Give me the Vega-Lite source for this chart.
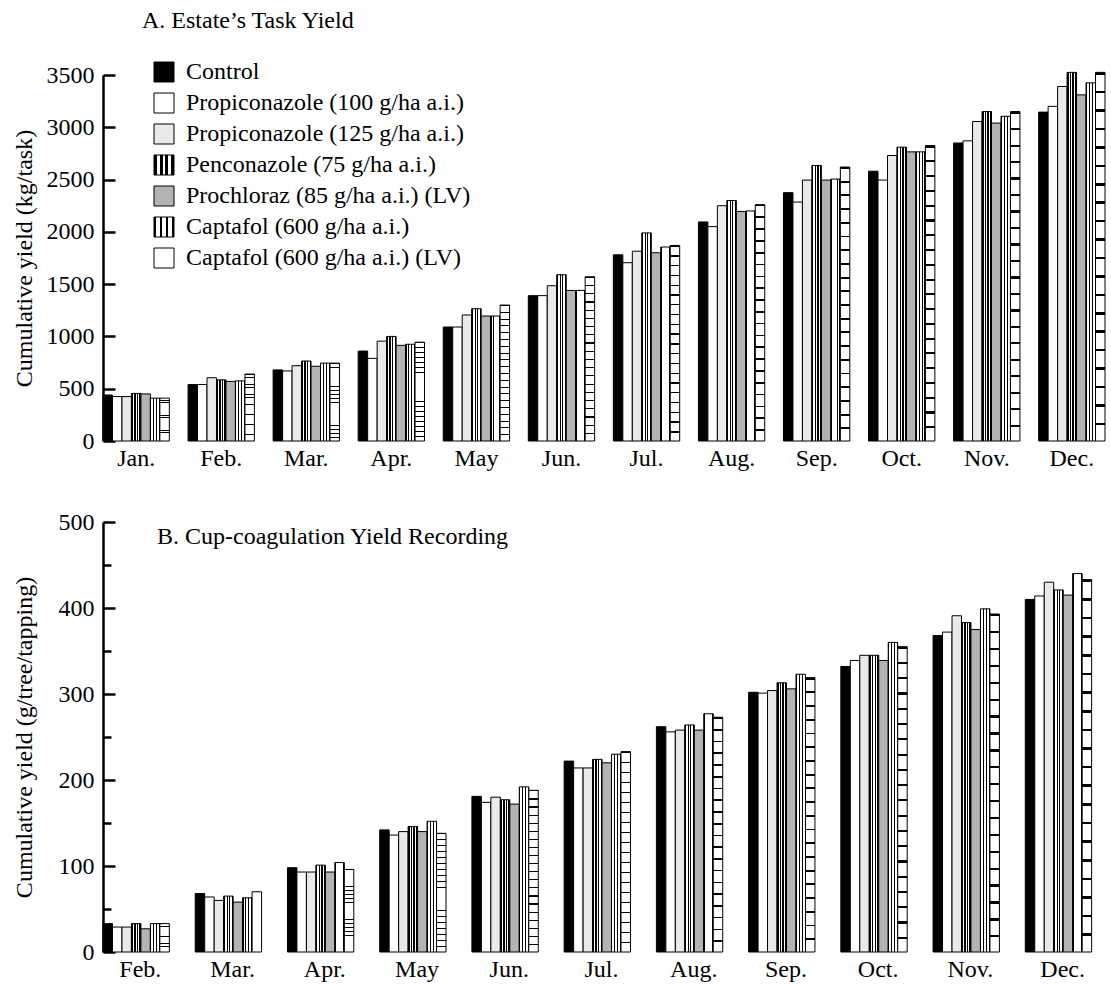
{
  "$schema": "https://vega.github.io/schema/vega-lite/v6.json",
  "background": "white",
  "padding": {"left": 12, "top": 9, "right": 4, "bottom": 4},
  "config": {
    "font": "Liberation Serif",
    "view": {"stroke": null},
    "axis": {"labelFont": "Liberation Serif", "titleFont": "Liberation Serif", "labelFontSize": 24, "titleFontSize": 24, "titleFontWeight": "normal", "labelColor": "#000", "titleColor": "#000", "domainColor": "#000", "tickColor": "#000", "grid": false},
    "axisX": {"domain": false, "ticks": false, "labelPadding": 5, "labelAngle": 0, "title": null},
    "axisY": {"domainWidth": 2.5, "tickWidth": 2.5, "tickSize": -12, "labelPadding": 21, "titlePadding": 10, "format": "d"},
    "title": {"font": "Liberation Serif", "fontSize": 24, "fontWeight": "normal", "color": "#000", "anchor": "start", "frame": "group"},
    "bar": {"stroke": "#000", "strokeWidth": 1}
  },
  "spacing": 40,
  "resolve": {"scale": {"fill": "independent"}, "legend": {"fill": "independent"}},
  "datasets": {
    "A": [
      {"month": "Jan.", "series": "Control", "value": 440},
      {"month": "Jan.", "series": "Propiconazole (100 g/ha a.i.)", "value": 425},
      {"month": "Jan.", "series": "Propiconazole (125 g/ha a.i.)", "value": 425},
      {"month": "Jan.", "series": "Penconazole (75 g/ha a.i.)", "value": 455},
      {"month": "Jan.", "series": "Prochloraz (85 g/ha a.i.) (LV)", "value": 450},
      {"month": "Jan.", "series": "Captafol (600 g/ha a.i.)", "value": 410},
      {"month": "Jan.", "series": "Captafol (600 g/ha a.i.) (LV)", "value": 410},
      {"month": "Feb.", "series": "Control", "value": 540},
      {"month": "Feb.", "series": "Propiconazole (100 g/ha a.i.)", "value": 540},
      {"month": "Feb.", "series": "Propiconazole (125 g/ha a.i.)", "value": 605},
      {"month": "Feb.", "series": "Penconazole (75 g/ha a.i.)", "value": 585},
      {"month": "Feb.", "series": "Prochloraz (85 g/ha a.i.) (LV)", "value": 570},
      {"month": "Feb.", "series": "Captafol (600 g/ha a.i.)", "value": 575},
      {"month": "Feb.", "series": "Captafol (600 g/ha a.i.) (LV)", "value": 640},
      {"month": "Mar.", "series": "Control", "value": 680},
      {"month": "Mar.", "series": "Propiconazole (100 g/ha a.i.)", "value": 670},
      {"month": "Mar.", "series": "Propiconazole (125 g/ha a.i.)", "value": 720},
      {"month": "Mar.", "series": "Penconazole (75 g/ha a.i.)", "value": 765},
      {"month": "Mar.", "series": "Prochloraz (85 g/ha a.i.) (LV)", "value": 715},
      {"month": "Mar.", "series": "Captafol (600 g/ha a.i.)", "value": 745},
      {"month": "Mar.", "series": "Captafol (600 g/ha a.i.) (LV)", "value": 745},
      {"month": "Apr.", "series": "Control", "value": 860},
      {"month": "Apr.", "series": "Propiconazole (100 g/ha a.i.)", "value": 790},
      {"month": "Apr.", "series": "Propiconazole (125 g/ha a.i.)", "value": 955},
      {"month": "Apr.", "series": "Penconazole (75 g/ha a.i.)", "value": 1000},
      {"month": "Apr.", "series": "Prochloraz (85 g/ha a.i.) (LV)", "value": 915},
      {"month": "Apr.", "series": "Captafol (600 g/ha a.i.)", "value": 925},
      {"month": "Apr.", "series": "Captafol (600 g/ha a.i.) (LV)", "value": 945},
      {"month": "May", "series": "Control", "value": 1090},
      {"month": "May", "series": "Propiconazole (100 g/ha a.i.)", "value": 1090},
      {"month": "May", "series": "Propiconazole (125 g/ha a.i.)", "value": 1205},
      {"month": "May", "series": "Penconazole (75 g/ha a.i.)", "value": 1265},
      {"month": "May", "series": "Prochloraz (85 g/ha a.i.) (LV)", "value": 1195},
      {"month": "May", "series": "Captafol (600 g/ha a.i.)", "value": 1195},
      {"month": "May", "series": "Captafol (600 g/ha a.i.) (LV)", "value": 1300},
      {"month": "Jun.", "series": "Control", "value": 1390},
      {"month": "Jun.", "series": "Propiconazole (100 g/ha a.i.)", "value": 1390},
      {"month": "Jun.", "series": "Propiconazole (125 g/ha a.i.)", "value": 1485},
      {"month": "Jun.", "series": "Penconazole (75 g/ha a.i.)", "value": 1590},
      {"month": "Jun.", "series": "Prochloraz (85 g/ha a.i.) (LV)", "value": 1440},
      {"month": "Jun.", "series": "Captafol (600 g/ha a.i.)", "value": 1440},
      {"month": "Jun.", "series": "Captafol (600 g/ha a.i.) (LV)", "value": 1570},
      {"month": "Jul.", "series": "Control", "value": 1780},
      {"month": "Jul.", "series": "Propiconazole (100 g/ha a.i.)", "value": 1705},
      {"month": "Jul.", "series": "Propiconazole (125 g/ha a.i.)", "value": 1815},
      {"month": "Jul.", "series": "Penconazole (75 g/ha a.i.)", "value": 1990},
      {"month": "Jul.", "series": "Prochloraz (85 g/ha a.i.) (LV)", "value": 1800},
      {"month": "Jul.", "series": "Captafol (600 g/ha a.i.)", "value": 1855},
      {"month": "Jul.", "series": "Captafol (600 g/ha a.i.) (LV)", "value": 1870},
      {"month": "Aug.", "series": "Control", "value": 2095},
      {"month": "Aug.", "series": "Propiconazole (100 g/ha a.i.)", "value": 2050},
      {"month": "Aug.", "series": "Propiconazole (125 g/ha a.i.)", "value": 2250},
      {"month": "Aug.", "series": "Penconazole (75 g/ha a.i.)", "value": 2300},
      {"month": "Aug.", "series": "Prochloraz (85 g/ha a.i.) (LV)", "value": 2195},
      {"month": "Aug.", "series": "Captafol (600 g/ha a.i.)", "value": 2200},
      {"month": "Aug.", "series": "Captafol (600 g/ha a.i.) (LV)", "value": 2260},
      {"month": "Sep.", "series": "Control", "value": 2375},
      {"month": "Sep.", "series": "Propiconazole (100 g/ha a.i.)", "value": 2285},
      {"month": "Sep.", "series": "Propiconazole (125 g/ha a.i.)", "value": 2495},
      {"month": "Sep.", "series": "Penconazole (75 g/ha a.i.)", "value": 2635},
      {"month": "Sep.", "series": "Prochloraz (85 g/ha a.i.) (LV)", "value": 2495},
      {"month": "Sep.", "series": "Captafol (600 g/ha a.i.)", "value": 2505},
      {"month": "Sep.", "series": "Captafol (600 g/ha a.i.) (LV)", "value": 2620},
      {"month": "Oct.", "series": "Control", "value": 2580},
      {"month": "Oct.", "series": "Propiconazole (100 g/ha a.i.)", "value": 2495},
      {"month": "Oct.", "series": "Propiconazole (125 g/ha a.i.)", "value": 2730},
      {"month": "Oct.", "series": "Penconazole (75 g/ha a.i.)", "value": 2810},
      {"month": "Oct.", "series": "Prochloraz (85 g/ha a.i.) (LV)", "value": 2765},
      {"month": "Oct.", "series": "Captafol (600 g/ha a.i.)", "value": 2765},
      {"month": "Oct.", "series": "Captafol (600 g/ha a.i.) (LV)", "value": 2825},
      {"month": "Nov.", "series": "Control", "value": 2850},
      {"month": "Nov.", "series": "Propiconazole (100 g/ha a.i.)", "value": 2870},
      {"month": "Nov.", "series": "Propiconazole (125 g/ha a.i.)", "value": 3055},
      {"month": "Nov.", "series": "Penconazole (75 g/ha a.i.)", "value": 3150},
      {"month": "Nov.", "series": "Prochloraz (85 g/ha a.i.) (LV)", "value": 3040},
      {"month": "Nov.", "series": "Captafol (600 g/ha a.i.)", "value": 3105},
      {"month": "Nov.", "series": "Captafol (600 g/ha a.i.) (LV)", "value": 3150},
      {"month": "Dec.", "series": "Control", "value": 3145},
      {"month": "Dec.", "series": "Propiconazole (100 g/ha a.i.)", "value": 3200},
      {"month": "Dec.", "series": "Propiconazole (125 g/ha a.i.)", "value": 3390},
      {"month": "Dec.", "series": "Penconazole (75 g/ha a.i.)", "value": 3525},
      {"month": "Dec.", "series": "Prochloraz (85 g/ha a.i.) (LV)", "value": 3310},
      {"month": "Dec.", "series": "Captafol (600 g/ha a.i.)", "value": 3425},
      {"month": "Dec.", "series": "Captafol (600 g/ha a.i.) (LV)", "value": 3525}
    ],
    "B": [
      {"month": "Feb.", "series": "Control", "value": 33},
      {"month": "Feb.", "series": "Propiconazole (100 g/ha a.i.)", "value": 29},
      {"month": "Feb.", "series": "Propiconazole (125 g/ha a.i.)", "value": 29},
      {"month": "Feb.", "series": "Penconazole (75 g/ha a.i.)", "value": 33},
      {"month": "Feb.", "series": "Prochloraz (85 g/ha a.i.) (LV)", "value": 27},
      {"month": "Feb.", "series": "Captafol (600 g/ha a.i.)", "value": 33},
      {"month": "Feb.", "series": "Captafol (600 g/ha a.i.) (LV)", "value": 33},
      {"month": "Mar.", "series": "Control", "value": 68},
      {"month": "Mar.", "series": "Propiconazole (100 g/ha a.i.)", "value": 64},
      {"month": "Mar.", "series": "Propiconazole (125 g/ha a.i.)", "value": 60},
      {"month": "Mar.", "series": "Penconazole (75 g/ha a.i.)", "value": 65},
      {"month": "Mar.", "series": "Prochloraz (85 g/ha a.i.) (LV)", "value": 58},
      {"month": "Mar.", "series": "Captafol (600 g/ha a.i.)", "value": 63},
      {"month": "Mar.", "series": "Captafol (600 g/ha a.i.) (LV)", "value": 70},
      {"month": "Apr.", "series": "Control", "value": 98},
      {"month": "Apr.", "series": "Propiconazole (100 g/ha a.i.)", "value": 93},
      {"month": "Apr.", "series": "Propiconazole (125 g/ha a.i.)", "value": 93},
      {"month": "Apr.", "series": "Penconazole (75 g/ha a.i.)", "value": 101},
      {"month": "Apr.", "series": "Prochloraz (85 g/ha a.i.) (LV)", "value": 93},
      {"month": "Apr.", "series": "Captafol (600 g/ha a.i.)", "value": 104},
      {"month": "Apr.", "series": "Captafol (600 g/ha a.i.) (LV)", "value": 96},
      {"month": "May", "series": "Control", "value": 142},
      {"month": "May", "series": "Propiconazole (100 g/ha a.i.)", "value": 136},
      {"month": "May", "series": "Propiconazole (125 g/ha a.i.)", "value": 140},
      {"month": "May", "series": "Penconazole (75 g/ha a.i.)", "value": 146},
      {"month": "May", "series": "Prochloraz (85 g/ha a.i.) (LV)", "value": 140},
      {"month": "May", "series": "Captafol (600 g/ha a.i.)", "value": 152},
      {"month": "May", "series": "Captafol (600 g/ha a.i.) (LV)", "value": 138},
      {"month": "Jun.", "series": "Control", "value": 181},
      {"month": "Jun.", "series": "Propiconazole (100 g/ha a.i.)", "value": 174},
      {"month": "Jun.", "series": "Propiconazole (125 g/ha a.i.)", "value": 180},
      {"month": "Jun.", "series": "Penconazole (75 g/ha a.i.)", "value": 177},
      {"month": "Jun.", "series": "Prochloraz (85 g/ha a.i.) (LV)", "value": 172},
      {"month": "Jun.", "series": "Captafol (600 g/ha a.i.)", "value": 192},
      {"month": "Jun.", "series": "Captafol (600 g/ha a.i.) (LV)", "value": 188},
      {"month": "Jul.", "series": "Control", "value": 222},
      {"month": "Jul.", "series": "Propiconazole (100 g/ha a.i.)", "value": 214},
      {"month": "Jul.", "series": "Propiconazole (125 g/ha a.i.)", "value": 214},
      {"month": "Jul.", "series": "Penconazole (75 g/ha a.i.)", "value": 224},
      {"month": "Jul.", "series": "Prochloraz (85 g/ha a.i.) (LV)", "value": 220},
      {"month": "Jul.", "series": "Captafol (600 g/ha a.i.)", "value": 230},
      {"month": "Jul.", "series": "Captafol (600 g/ha a.i.) (LV)", "value": 233},
      {"month": "Aug.", "series": "Control", "value": 262},
      {"month": "Aug.", "series": "Propiconazole (100 g/ha a.i.)", "value": 256},
      {"month": "Aug.", "series": "Propiconazole (125 g/ha a.i.)", "value": 258},
      {"month": "Aug.", "series": "Penconazole (75 g/ha a.i.)", "value": 264},
      {"month": "Aug.", "series": "Prochloraz (85 g/ha a.i.) (LV)", "value": 258},
      {"month": "Aug.", "series": "Captafol (600 g/ha a.i.)", "value": 277},
      {"month": "Aug.", "series": "Captafol (600 g/ha a.i.) (LV)", "value": 273},
      {"month": "Sep.", "series": "Control", "value": 302},
      {"month": "Sep.", "series": "Propiconazole (100 g/ha a.i.)", "value": 301},
      {"month": "Sep.", "series": "Propiconazole (125 g/ha a.i.)", "value": 304},
      {"month": "Sep.", "series": "Penconazole (75 g/ha a.i.)", "value": 313},
      {"month": "Sep.", "series": "Prochloraz (85 g/ha a.i.) (LV)", "value": 306},
      {"month": "Sep.", "series": "Captafol (600 g/ha a.i.)", "value": 323},
      {"month": "Sep.", "series": "Captafol (600 g/ha a.i.) (LV)", "value": 319},
      {"month": "Oct.", "series": "Control", "value": 332},
      {"month": "Oct.", "series": "Propiconazole (100 g/ha a.i.)", "value": 339},
      {"month": "Oct.", "series": "Propiconazole (125 g/ha a.i.)", "value": 345},
      {"month": "Oct.", "series": "Penconazole (75 g/ha a.i.)", "value": 345},
      {"month": "Oct.", "series": "Prochloraz (85 g/ha a.i.) (LV)", "value": 339},
      {"month": "Oct.", "series": "Captafol (600 g/ha a.i.)", "value": 360},
      {"month": "Oct.", "series": "Captafol (600 g/ha a.i.) (LV)", "value": 355},
      {"month": "Nov.", "series": "Control", "value": 368},
      {"month": "Nov.", "series": "Propiconazole (100 g/ha a.i.)", "value": 372},
      {"month": "Nov.", "series": "Propiconazole (125 g/ha a.i.)", "value": 391},
      {"month": "Nov.", "series": "Penconazole (75 g/ha a.i.)", "value": 383},
      {"month": "Nov.", "series": "Prochloraz (85 g/ha a.i.) (LV)", "value": 375},
      {"month": "Nov.", "series": "Captafol (600 g/ha a.i.)", "value": 399},
      {"month": "Nov.", "series": "Captafol (600 g/ha a.i.) (LV)", "value": 393},
      {"month": "Dec.", "series": "Control", "value": 410},
      {"month": "Dec.", "series": "Propiconazole (100 g/ha a.i.)", "value": 414},
      {"month": "Dec.", "series": "Propiconazole (125 g/ha a.i.)", "value": 430},
      {"month": "Dec.", "series": "Penconazole (75 g/ha a.i.)", "value": 421},
      {"month": "Dec.", "series": "Prochloraz (85 g/ha a.i.) (LV)", "value": 415},
      {"month": "Dec.", "series": "Captafol (600 g/ha a.i.)", "value": 440},
      {"month": "Dec.", "series": "Captafol (600 g/ha a.i.) (LV)", "value": 433}
    ]
  },
  "vconcat": [
    {
      "data": {"name": "A"},
      "title": {"text": "A. Estate’s Task Yield", "dx": 39, "offset": 27},
      "width": 1002,
      "height": 366,
      "mark": {"type": "bar"},
      "encoding": {
        "x": {"field": "month", "type": "nominal", "sort": ["Jan.", "Feb.", "Mar.", "Apr.", "May", "Jun.", "Jul.", "Aug.", "Sep.", "Oct.", "Nov.", "Dec."], "scale": {"paddingInner": 0.22, "paddingOuter": 0}, "axis": {"title": null}},
        "xOffset": {"field": "series", "type": "nominal", "sort": ["Control", "Propiconazole (100 g/ha a.i.)", "Propiconazole (125 g/ha a.i.)", "Penconazole (75 g/ha a.i.)", "Prochloraz (85 g/ha a.i.) (LV)", "Captafol (600 g/ha a.i.)", "Captafol (600 g/ha a.i.) (LV)"], "scale": {"paddingInner": 0, "paddingOuter": 0}},
        "y": {"field": "value", "type": "quantitative", "scale": {"domain": [0, 3500], "nice": false}, "axis": {"title": "Cumulative yield (kg/task)", "values": [0, 500, 1000, 1500, 2000, 2500, 3000, 3500], "titlePadding": 10}},
        "fill": {
          "field": "series", "type": "nominal",
          "scale": {
            "domain": ["Control", "Propiconazole (100 g/ha a.i.)", "Propiconazole (125 g/ha a.i.)", "Penconazole (75 g/ha a.i.)", "Prochloraz (85 g/ha a.i.) (LV)", "Captafol (600 g/ha a.i.)", "Captafol (600 g/ha a.i.) (LV)"],
            "range": [
              "#000000",
              "#ffffff",
              "#e9e9e9",
              {"expr": "{gradient:'linear',x1:0,y1:0,x2:1,y2:0,stops:[{offset:0,color:'#000'},{offset:0.16,color:'#000'},{offset:0.16,color:'#fff'},{offset:0.3,color:'#fff'},{offset:0.3,color:'#000'},{offset:0.44,color:'#000'},{offset:0.44,color:'#fff'},{offset:0.56,color:'#fff'},{offset:0.56,color:'#000'},{offset:0.7,color:'#000'},{offset:0.7,color:'#fff'},{offset:0.84,color:'#fff'},{offset:0.84,color:'#000'},{offset:1,color:'#000'}]}"},
              "#b3b3b3",
              {"expr": "{gradient:'linear',x1:0,y1:0,x2:1,y2:0,stops:[{offset:0,color:'#000'},{offset:0.1,color:'#000'},{offset:0.1,color:'#fff'},{offset:0.3,color:'#fff'},{offset:0.3,color:'#000'},{offset:0.38,color:'#000'},{offset:0.38,color:'#fff'},{offset:0.62,color:'#fff'},{offset:0.62,color:'#000'},{offset:0.7,color:'#000'},{offset:0.7,color:'#fff'},{offset:0.9,color:'#fff'},{offset:0.9,color:'#000'},{offset:1,color:'#000'}]}"},
              {"expr": "{gradient:'linear',x1:0,y1:0,x2:0,y2:1,stops:[{offset:0,color:'#000'},{offset:0.007,color:'#000'},{offset:0.007,color:'#fff'},{offset:0.05,color:'#fff'},{offset:0.05,color:'#000'},{offset:0.057,color:'#000'},{offset:0.057,color:'#fff'},{offset:0.1,color:'#fff'},{offset:0.1,color:'#000'},{offset:0.107,color:'#000'},{offset:0.107,color:'#fff'},{offset:0.15,color:'#fff'},{offset:0.15,color:'#000'},{offset:0.157,color:'#000'},{offset:0.157,color:'#fff'},{offset:0.2,color:'#fff'},{offset:0.2,color:'#000'},{offset:0.207,color:'#000'},{offset:0.207,color:'#fff'},{offset:0.25,color:'#fff'},{offset:0.25,color:'#000'},{offset:0.257,color:'#000'},{offset:0.257,color:'#fff'},{offset:0.3,color:'#fff'},{offset:0.3,color:'#000'},{offset:0.307,color:'#000'},{offset:0.307,color:'#fff'},{offset:0.35,color:'#fff'},{offset:0.35,color:'#000'},{offset:0.357,color:'#000'},{offset:0.357,color:'#fff'},{offset:0.4,color:'#fff'},{offset:0.4,color:'#000'},{offset:0.407,color:'#000'},{offset:0.407,color:'#fff'},{offset:0.45,color:'#fff'},{offset:0.45,color:'#000'},{offset:0.457,color:'#000'},{offset:0.457,color:'#fff'},{offset:0.5,color:'#fff'},{offset:0.5,color:'#000'},{offset:0.507,color:'#000'},{offset:0.507,color:'#fff'},{offset:0.55,color:'#fff'},{offset:0.55,color:'#000'},{offset:0.557,color:'#000'},{offset:0.557,color:'#fff'},{offset:0.6,color:'#fff'},{offset:0.6,color:'#000'},{offset:0.607,color:'#000'},{offset:0.607,color:'#fff'},{offset:0.65,color:'#fff'},{offset:0.65,color:'#000'},{offset:0.657,color:'#000'},{offset:0.657,color:'#fff'},{offset:0.7,color:'#fff'},{offset:0.7,color:'#000'},{offset:0.707,color:'#000'},{offset:0.707,color:'#fff'},{offset:0.75,color:'#fff'},{offset:0.75,color:'#000'},{offset:0.757,color:'#000'},{offset:0.757,color:'#fff'},{offset:0.8,color:'#fff'},{offset:0.8,color:'#000'},{offset:0.807,color:'#000'},{offset:0.807,color:'#fff'},{offset:0.85,color:'#fff'},{offset:0.85,color:'#000'},{offset:0.857,color:'#000'},{offset:0.857,color:'#fff'},{offset:0.9,color:'#fff'},{offset:0.9,color:'#000'},{offset:0.907,color:'#000'},{offset:0.907,color:'#fff'},{offset:0.95,color:'#fff'},{offset:0.95,color:'#000'},{offset:0.957,color:'#000'},{offset:0.957,color:'#fff'},{offset:1,color:'#fff'}]}"}
            ]
          },
          "legend": {"orient": "none", "legendX": 49, "legendY": -15, "title": null, "labelFont": "Liberation Serif", "labelFontSize": 24, "labelColor": "#000", "symbolType": "square", "symbolSize": 400, "symbolStrokeColor": "#000", "symbolStrokeWidth": 1, "rowPadding": 7, "labelOffset": 10, "padding": 0, "labelLimit": 600}
        }
      }
    },
    {
      "data": {"name": "B"},
      "title": {"text": "B. Cup-coagulation Yield Recording", "dx": 54, "offset": -39},
      "width": 997,
      "height": 430,
      "mark": {"type": "bar"},
      "encoding": {
        "x": {"field": "month", "type": "nominal", "sort": ["Feb.", "Mar.", "Apr.", "May", "Jun.", "Jul.", "Aug.", "Sep.", "Oct.", "Nov.", "Dec."], "scale": {"paddingInner": 0.19, "paddingOuter": 0}, "axis": {"title": null}},
        "xOffset": {"field": "series", "type": "nominal", "sort": ["Control", "Propiconazole (100 g/ha a.i.)", "Propiconazole (125 g/ha a.i.)", "Penconazole (75 g/ha a.i.)", "Prochloraz (85 g/ha a.i.) (LV)", "Captafol (600 g/ha a.i.)", "Captafol (600 g/ha a.i.) (LV)"], "scale": {"paddingInner": 0, "paddingOuter": 0}},
        "y": {"field": "value", "type": "quantitative", "scale": {"domain": [0, 500], "nice": false}, "axis": {"title": "Cumulative yield (g/tree/tapping)", "values": [0, 50, 100, 150, 200, 250, 300, 350, 400, 450, 500], "labelExpr": "datum.value % 100 === 0 ? datum.label : ''", "tickSize": {"condition": {"test": "datum.value % 100 !== 0", "value": -8}, "value": -12}, "titlePadding": 22}},
        "fill": {
          "field": "series", "type": "nominal",
          "scale": {
            "domain": ["Control", "Propiconazole (100 g/ha a.i.)", "Propiconazole (125 g/ha a.i.)", "Penconazole (75 g/ha a.i.)", "Prochloraz (85 g/ha a.i.) (LV)", "Captafol (600 g/ha a.i.)", "Captafol (600 g/ha a.i.) (LV)"],
            "range": [
              "#000000",
              "#ffffff",
              "#e9e9e9",
              {"expr": "{gradient:'linear',x1:0,y1:0,x2:1,y2:0,stops:[{offset:0,color:'#000'},{offset:0.16,color:'#000'},{offset:0.16,color:'#fff'},{offset:0.3,color:'#fff'},{offset:0.3,color:'#000'},{offset:0.44,color:'#000'},{offset:0.44,color:'#fff'},{offset:0.56,color:'#fff'},{offset:0.56,color:'#000'},{offset:0.7,color:'#000'},{offset:0.7,color:'#fff'},{offset:0.84,color:'#fff'},{offset:0.84,color:'#000'},{offset:1,color:'#000'}]}"},
              "#b3b3b3",
              {"expr": "{gradient:'linear',x1:0,y1:0,x2:1,y2:0,stops:[{offset:0,color:'#000'},{offset:0.1,color:'#000'},{offset:0.1,color:'#fff'},{offset:0.3,color:'#fff'},{offset:0.3,color:'#000'},{offset:0.38,color:'#000'},{offset:0.38,color:'#fff'},{offset:0.62,color:'#fff'},{offset:0.62,color:'#000'},{offset:0.7,color:'#000'},{offset:0.7,color:'#fff'},{offset:0.9,color:'#fff'},{offset:0.9,color:'#000'},{offset:1,color:'#000'}]}"},
              {"expr": "{gradient:'linear',x1:0,y1:0,x2:0,y2:1,stops:[{offset:0,color:'#000'},{offset:0.007,color:'#000'},{offset:0.007,color:'#fff'},{offset:0.05,color:'#fff'},{offset:0.05,color:'#000'},{offset:0.057,color:'#000'},{offset:0.057,color:'#fff'},{offset:0.1,color:'#fff'},{offset:0.1,color:'#000'},{offset:0.107,color:'#000'},{offset:0.107,color:'#fff'},{offset:0.15,color:'#fff'},{offset:0.15,color:'#000'},{offset:0.157,color:'#000'},{offset:0.157,color:'#fff'},{offset:0.2,color:'#fff'},{offset:0.2,color:'#000'},{offset:0.207,color:'#000'},{offset:0.207,color:'#fff'},{offset:0.25,color:'#fff'},{offset:0.25,color:'#000'},{offset:0.257,color:'#000'},{offset:0.257,color:'#fff'},{offset:0.3,color:'#fff'},{offset:0.3,color:'#000'},{offset:0.307,color:'#000'},{offset:0.307,color:'#fff'},{offset:0.35,color:'#fff'},{offset:0.35,color:'#000'},{offset:0.357,color:'#000'},{offset:0.357,color:'#fff'},{offset:0.4,color:'#fff'},{offset:0.4,color:'#000'},{offset:0.407,color:'#000'},{offset:0.407,color:'#fff'},{offset:0.45,color:'#fff'},{offset:0.45,color:'#000'},{offset:0.457,color:'#000'},{offset:0.457,color:'#fff'},{offset:0.5,color:'#fff'},{offset:0.5,color:'#000'},{offset:0.507,color:'#000'},{offset:0.507,color:'#fff'},{offset:0.55,color:'#fff'},{offset:0.55,color:'#000'},{offset:0.557,color:'#000'},{offset:0.557,color:'#fff'},{offset:0.6,color:'#fff'},{offset:0.6,color:'#000'},{offset:0.607,color:'#000'},{offset:0.607,color:'#fff'},{offset:0.65,color:'#fff'},{offset:0.65,color:'#000'},{offset:0.657,color:'#000'},{offset:0.657,color:'#fff'},{offset:0.7,color:'#fff'},{offset:0.7,color:'#000'},{offset:0.707,color:'#000'},{offset:0.707,color:'#fff'},{offset:0.75,color:'#fff'},{offset:0.75,color:'#000'},{offset:0.757,color:'#000'},{offset:0.757,color:'#fff'},{offset:0.8,color:'#fff'},{offset:0.8,color:'#000'},{offset:0.807,color:'#000'},{offset:0.807,color:'#fff'},{offset:0.85,color:'#fff'},{offset:0.85,color:'#000'},{offset:0.857,color:'#000'},{offset:0.857,color:'#fff'},{offset:0.9,color:'#fff'},{offset:0.9,color:'#000'},{offset:0.907,color:'#000'},{offset:0.907,color:'#fff'},{offset:0.95,color:'#fff'},{offset:0.95,color:'#000'},{offset:0.957,color:'#000'},{offset:0.957,color:'#fff'},{offset:1,color:'#fff'}]}"}
            ]
          },
          "legend": null
        }
      }
    }
  ]
}
